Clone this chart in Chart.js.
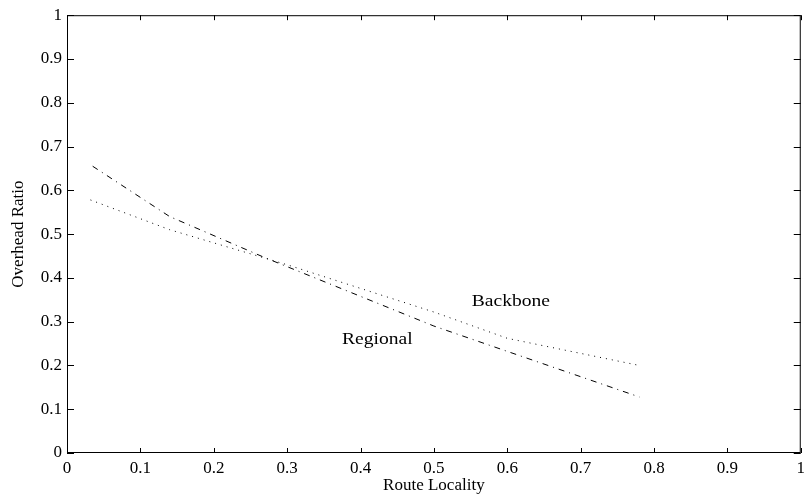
<!DOCTYPE html>
<html>
<head>
<meta charset="utf-8">
<script src="https://cdn.jsdelivr.net/npm/chart.js@4/dist/chart.umd.min.js"></script>
<style>
  html, body { margin: 0; padding: 0; background: #fff; }
  #wrap { width: 810px; height: 499px; }
</style>
</head>
<body>
<div id="wrap"><canvas id="chart"></canvas></div>
<script>
// Series
const regionalX = [0.035, 0.14, 0.27, 0.5, 0.78];
const regionalY = [0.655, 0.54, 0.446, 0.29, 0.128];
const backboneX = [0.032, 0.14, 0.3, 0.5, 0.6, 0.78];
const backboneY = [0.578, 0.51, 0.43, 0.322, 0.262, 0.2];

// Tick values
const xTicks = [0, 0.1, 0.2, 0.3, 0.4, 0.5, 0.6, 0.7, 0.8, 0.9, 1];
const yTicks = [0, 0.1, 0.2, 0.3, 0.4, 0.5, 0.6, 0.7, 0.8, 0.9, 1];

// In-plot labels (data coordinates)
const labelText = ['Backbone', 'Regional'];
const labelX = [0.605, 0.423];
const labelY = [0.346, 0.26];

const serif = '"Liberation Serif", "Times New Roman", serif';

const toPoints = (xs, ys) => xs.map((x, i) => ({ x: x, y: ys[i] }));

// Frame, inward ticks on all four sides, and curve labels
const framePlugin = {
  id: 'frame',
  afterDatasetsDraw(chart) {
    const { ctx, chartArea: a, scales } = chart;
    ctx.save();
    ctx.strokeStyle = '#000';
    ctx.lineWidth = 1;
    ctx.strokeRect(a.left + 0.5, a.top + 0.5, a.right - a.left - 1, a.bottom - a.top - 1);

    ctx.beginPath();
    xTicks.forEach(v => {
      const px = Math.round(scales.x.getPixelForValue(v)) + 0.5;
      ctx.moveTo(px, a.bottom);
      ctx.lineTo(px, a.bottom - 5);
      ctx.moveTo(px, a.top);
      ctx.lineTo(px, a.top + 5);
    });
    yTicks.forEach(v => {
      const py = Math.round(scales.y.getPixelForValue(v)) + 0.5;
      ctx.moveTo(a.left, py);
      ctx.lineTo(a.left + 7, py);
      ctx.moveTo(a.right, py);
      ctx.lineTo(a.right - 7, py);
    });
    ctx.stroke();

    ctx.fillStyle = '#000';
    ctx.font = '17px ' + serif;
    ctx.textAlign = 'center';
    ctx.textBaseline = 'middle';
    labelText.forEach((t, i) => {
      ctx.save();
      ctx.translate(scales.x.getPixelForValue(labelX[i]), scales.y.getPixelForValue(labelY[i]));
      ctx.scale(1.15, 1);
      ctx.fillText(t, 0, 0);
      ctx.restore();
    });
    ctx.restore();
  }
};

const fmt = v => String(+(+v).toFixed(1));

new Chart(document.getElementById('chart'), {
  type: 'line',
  data: {
    datasets: [
      {
        label: 'Regional',
        data: toPoints(regionalX, regionalY),
        borderColor: '#000',
        borderWidth: 1,
        borderDash: [6, 5, 1, 5],
        pointRadius: 0,
        tension: 0,
        fill: false
      },
      {
        label: 'Backbone',
        data: toPoints(backboneX, backboneY),
        borderColor: '#000',
        borderWidth: 1,
        borderDash: [1, 5],
        pointRadius: 0,
        tension: 0,
        fill: false
      }
    ]
  },
  options: {
    responsive: true,
    maintainAspectRatio: false,
    animation: false,
    layout: { padding: { top: 11, right: 5, left: 0, bottom: 0 } },
    plugins: {
      legend: { display: false },
      tooltip: { enabled: false }
    },
    scales: {
      x: {
        type: 'linear',
        min: 0,
        max: 1,
        afterBuildTicks: s => { s.ticks = xTicks.map(v => ({ value: v })); },
        afterFit: s => { s.height = 46; },
        grid: { display: false, drawTicks: false },
        border: { display: false },
        ticks: {
          color: '#000',
          font: { family: serif, size: 17 },
          padding: 5,
          maxRotation: 0,
          autoSkip: false,
          callback: fmt
        },
        title: {
          display: true,
          text: 'Route Locality',
          color: '#000',
          font: { family: serif, size: 17 },
          padding: { top: 0, bottom: 3 }
        }
      },
      y: {
        type: 'linear',
        min: 0,
        max: 1,
        afterBuildTicks: s => { s.ticks = yTicks.map(v => ({ value: v })); },
        afterFit: s => { s.width = 67; },
        grid: { display: false, drawTicks: false },
        border: { display: false },
        ticks: {
          color: '#000',
          font: { family: serif, size: 17 },
          padding: 5,
          autoSkip: false,
          callback: fmt
        },
        title: {
          display: true,
          text: 'Overhead Ratio',
          color: '#000',
          font: { family: serif, size: 17 },
          padding: { top: 8, bottom: 0 }
        }
      }
    }
  },
  plugins: [framePlugin]
});
</script>
</body>
</html>
